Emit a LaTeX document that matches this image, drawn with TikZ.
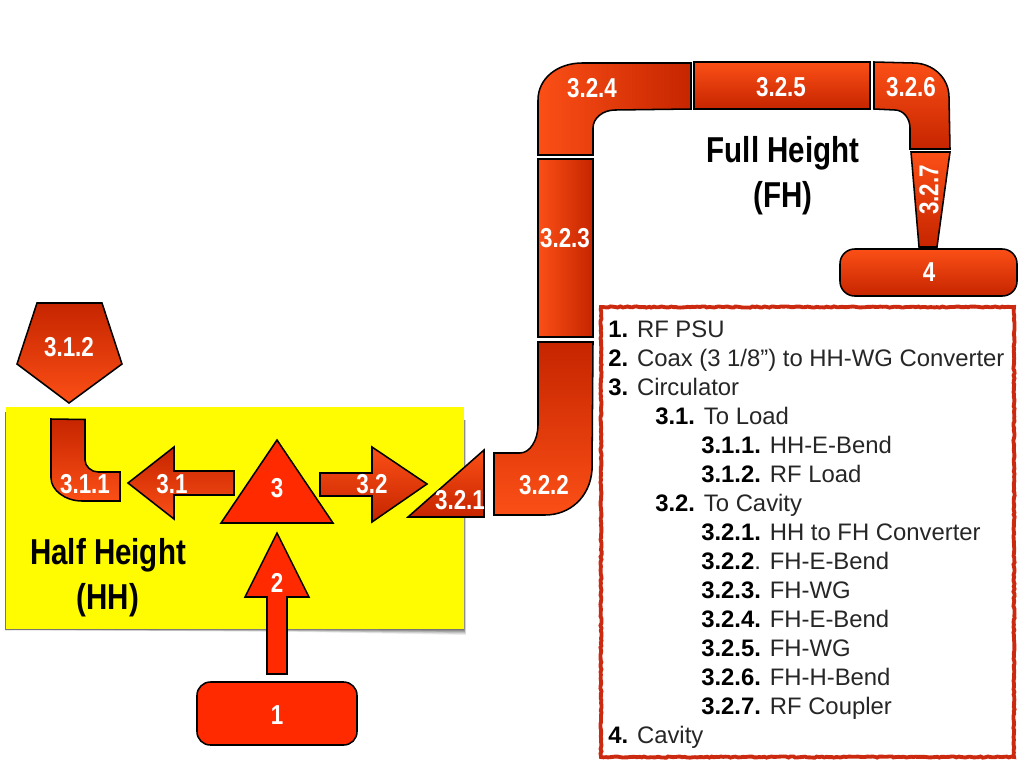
\documentclass[tikz,border=0pt]{standalone}
\usepackage{fontspec}
\setmainfont{Liberation Sans}
\newfontfamily\tagfont[FakeStretch=0.82]{Liberation Sans}
\usetikzlibrary{decorations.pathmorphing}
\definecolor{rfdark}{HTML}{C62500}
\definecolor{rfbright}{HTML}{FB4F16}
\definecolor{rfflat}{HTML}{FF2A00}
\definecolor{boxred}{HTML}{CC2A10}
\definecolor{zonefill}{HTML}{FFFB00}
\newcommand{\partno}[1]{{\color{black}\bfseries #1}}
\tikzset{
  x=0.75pt,y=-0.75pt,
  part/.style={draw=black,line width=1.15pt,line join=miter},
  topdark/.style={part,top color=rfdark,bottom color=rfbright},
  topbright/.style={part,top color=rfbright,bottom color=rfdark},
  leftbright/.style={part,left color=rfbright,right color=rfdark},
  flat/.style={part,fill=rfflat},
  tag/.style={text=white,inner sep=0pt,font=\tagfont\bfseries\fontsize{20.5}{22}\selectfont},
  zone/.style={inner sep=0pt,align=center,font=\tagfont\bfseries\fontsize{27}{33.5}\selectfont},
  entry/.style={anchor=base west,inner sep=0pt,text=black!85,font=\fontsize{17.9}{20}\selectfont},
}
\begin{document}
\begin{tikzpicture}
\useasboundingbox (0,0) rectangle (1024,768);

% Half-height region with a shadow that widens towards the lower right
\foreach \g/\o in {6/0.07,5/0.09,4/0.11,3/0.13,2/0.15,1/0.17}
  \fill[black,opacity=\o] (5,412) -- (464+\g/3,420) -- (464+\g/3,629+\g)
    -- (300,629+\g/2) -- (5,630) -- cycle;
\fill[zonefill] (6,407) rectangle (464,629);

% Half-height parts
\path[topdark] (37,303) -- (102,303) -- (122,364) -- (69,403) -- (17,364) -- cycle;
\path[topdark] (51,419) -- (85,419.5) -- (85,460) .. controls (85,466) and (91,472) .. (98,472)
  -- (120,472) -- (120,501) -- (82,501) .. controls (65,501) and (51,490) .. (51,478) -- cycle;
\path[topdark] (128,483) -- (174,447) -- (174,471) -- (234,471) -- (234,495) -- (174,495) -- (174,519) -- cycle;
\path[flat] (277,440) -- (333,523) -- (221,523) -- cycle;
\path[flat] (277,533) -- (309,597) -- (287,597) -- (287,674) -- (267,674) -- (267,597) -- (245,597) -- cycle;
\path[flat,rounded corners=10pt] (197,682) rectangle (357,745);
\path[topbright] (320,473) -- (372,473) -- (372,447) -- (427,484) -- (372,522) -- (372,496) -- (320,496) -- cycle;
\path[topbright] (484,450) -- (484,517) -- (408,517) -- cycle;

% Full-height waveguide run
\path[topdark] (538,342) -- (593,342) -- (592,470) .. controls (590,497) and (570,515) .. (545,515)
  -- (494,515) -- (494,453) -- (520,453) .. controls (530,453) and (538,440) .. (538,425) -- cycle;
\path[leftbright] (538,159) rectangle (593,337);
\path[leftbright] (538,155) -- (538,100) .. controls (538,78) and (558,63) .. (582,63) -- (691,63)
  -- (691,109) -- (615,110) .. controls (603,110) and (593,118) .. (593,128) -- (593,155) -- cycle;
\path[topbright] (694,62) rectangle (870,109);
\path[topbright] (874,62) -- (913,63) .. controls (933,63) and (949,78) .. (949,97) -- (950,149)
  -- (910,149) -- (910,128) .. controls (910,118) and (903,110) .. (895,110) -- (874,109) -- cycle;
\path[topbright] (911,152) -- (950,152) -- (937,247) -- (919,247) -- cycle;
\path[topbright,rounded corners=11pt] (840,249) rectangle (1017,296);

% Part numbers
\node[tag] (n1) at (277,715) {1};
\node[tag] (n2) at (277,583) {2};
\node[tag] (n3) at (277,488) {3};
\node[tag] (n31) at (172,484) {3.1};
\node[tag] (n311) at (85,484) {3.1.1};
\node[tag] (n312) at (69,347) {3.1.2};
\node[tag] (n32) at (372,484) {3.2};
\node[tag] (n321) at (460,500) {3.2.1};
\node[tag] (n322) at (544,485) {3.2.2};
\node[tag] (n323) at (565,238) {3.2.3};
\node[tag] (n324) at (592,88) {3.2.4};
\node[tag] (n325) at (781,87) {3.2.5};
\node[tag] (n326) at (911,87) {3.2.6};
\node[tag,rotate=90] (n327) at (929,190) {3.2.7};
\node[tag] (n4) at (929,272) {4};

% Region captions
\node[zone] (hh) at (108,578) {Half Height\\(HH)};
\node[zone] (fh) at (783,176) {Full Height\\(FH)};

% Key to the part numbers
\draw[boxred,line width=2.9pt,fill=white,decorate,
  decoration={random steps,segment length=1.8pt,amplitude=0.45pt}]
  (601,307) rectangle (1014,757);
\node[entry] (k1) at (608,337) {\partno{1.} RF PSU};
\node[entry] (k2) at (608,366) {\partno{2.} Coax (3 1/8”) to HH-WG Converter};
\node[entry] (k3) at (608,395) {\partno{3.} Circulator};
\node[entry] (k4) at (655,424) {\partno{3.1.} To Load};
\node[entry] (k5) at (701,453) {\partno{3.1.1.} HH-E-Bend};
\node[entry] (k6) at (701,482) {\partno{3.1.2.} RF Load};
\node[entry] (k7) at (655,511) {\partno{3.2.} To Cavity};
\node[entry] (k8) at (701,540) {\partno{3.2.1.} HH to FH Converter};
\node[entry] (k9) at (701,569) {\partno{3.2.2}. FH-E-Bend};
\node[entry] (k10) at (701,598) {\partno{3.2.3.} FH-WG};
\node[entry] (k11) at (701,627) {\partno{3.2.4.} FH-E-Bend};
\node[entry] (k12) at (701,656) {\partno{3.2.5.} FH-WG};
\node[entry] (k13) at (701,685) {\partno{3.2.6.} FH-H-Bend};
\node[entry] (k14) at (701,714) {\partno{3.2.7.} RF Coupler};
\node[entry] (k15) at (608,743) {\partno{4.} Cavity};
\end{tikzpicture}
\end{document}
